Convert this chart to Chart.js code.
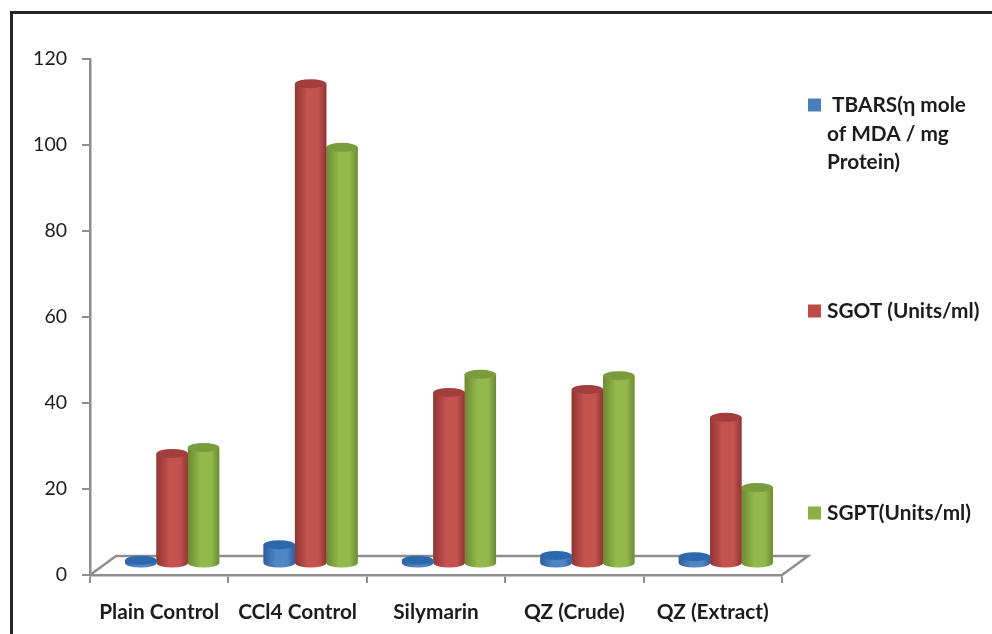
<!DOCTYPE html>
<html>
<head>
<meta charset="utf-8">
<title>Liver markers by treatment group</title>
<script src="https://cdn.jsdelivr.net/npm/chart.js@4"></script>
<style>
  html, body { margin: 0; background: #fff; }
  canvas { display: block; }
</style>
</head>
<body>
<canvas id="markers" width="992" height="634"></canvas>
<script>
const groups = ["Plain Control", "CCl4 Control", "Silymarin", "QZ (Crude)", "QZ (Extract)"];
const tbars = [0.9, 4.5, 0.9, 2.0, 1.7];
const sgot = [25.7, 111.7, 39.9, 40.6, 34.1];
const sgpt = [27.1, 96.9, 44.1, 43.8, 17.8];
const tbarsLabel = [" TBARS(η mole", "of MDA / mg", "Protein)"];
const sgotLabel = ["SGOT (Units/ml)"];
const sgptLabel = ["SGPT(Units/ml)"];

const AXIS_GREY = "#8e8e8e";
const TEXT_DARK = "#1c1c1c";
// the bars stand in the middle of the floor, the back wall sits twice as far away
const DEPTH_X = 13;
const DEPTH_Y = 11;
const CAP_RY = 4.5;

const shades = {
  tbars: { edge: "#2f5f9c", mid: "#4f86c6", cap: "#2c68ad" },
  sgot: { edge: "#8f3633", mid: "#c4524f", cap: "#a23f3c" },
  sgpt: { edge: "#6c8a34", mid: "#93b84b", cap: "#7a9c3c" },
};

function bodyGradient(ctx, left, right, s) {
  const g = ctx.createLinearGradient(left, 0, right, 0);
  g.addColorStop(0, s.edge);
  g.addColorStop(0.4, s.mid);
  g.addColorStop(0.75, s.mid);
  g.addColorStop(1, s.edge);
  return g;
}

// turns each flat bar into a cylinder and shifts it back onto the floor
const cylinders = {
  id: "cylinders",
  beforeDatasetDraw(chart) {
    chart.ctx.save();
    chart.ctx.translate(DEPTH_X, -DEPTH_Y);
  },
  afterDatasetDraw(chart, args) {
    const ctx = chart.ctx;
    const s = chart.data.datasets[args.index].shades;
    args.meta.data.forEach((bar) => {
      const { x, y, base, width } = bar.getProps(["x", "y", "base", "width"], true);
      const left = x - width / 2;
      const right = x + width / 2;
      ctx.fillStyle = bodyGradient(ctx, left, right, s);
      ctx.beginPath();
      ctx.moveTo(left, y);
      ctx.lineTo(left, base);
      ctx.ellipse(x, base, width / 2, CAP_RY, 0, Math.PI, 0, true);
      ctx.lineTo(right, y);
      ctx.closePath();
      ctx.fill();
      ctx.fillStyle = s.cap;
      ctx.beginPath();
      ctx.ellipse(x, y, width / 2, CAP_RY, 0, 0, Math.PI * 2);
      ctx.fill();
    });
    ctx.restore();
  },
};

// floor outline and the frame around the figure
const floorAndFrame = {
  id: "floorAndFrame",
  beforeDatasetsDraw(chart) {
    const { ctx, chartArea: a } = chart;
    const backX = 2 * DEPTH_X;
    const backY = a.bottom - 19;
    ctx.save();
    ctx.strokeStyle = AXIS_GREY;
    ctx.lineWidth = 2.5;
    ctx.beginPath();
    ctx.moveTo(a.left, a.bottom);
    ctx.lineTo(a.left + backX, backY);
    ctx.lineTo(a.right + backX, backY);
    ctx.lineTo(a.right, a.bottom);
    ctx.stroke();
    ctx.restore();
  },
  afterDraw(chart) {
    const ctx = chart.ctx;
    ctx.save();
    ctx.strokeStyle = "#262626";
    ctx.lineWidth = 3;
    ctx.beginPath();
    ctx.moveTo(11.5, chart.height);
    ctx.lineTo(11.5, 12.5);
    ctx.lineTo(chart.width, 12.5);
    ctx.stroke();
    ctx.restore();
  },
};

// legend entries are spread down the right side, one per series
const sideLegend = {
  id: "sideLegend",
  afterDraw(chart) {
    const ctx = chart.ctx;
    const entries = [
      { lines: tbarsLabel, y: [105, 134, 162], swatch: "#4a7ebb" },
      { lines: sgotLabel, y: [311], swatch: "#be4b48" },
      { lines: sgptLabel, y: [513], swatch: "#8cb045" },
    ];
    ctx.save();
    ctx.font = "bold 20.8px Lato";
    ctx.textBaseline = "middle";
    entries.forEach((entry) => {
      ctx.fillStyle = entry.swatch;
      ctx.fillRect(808, entry.y[0] - 6.5, 13, 13);
      ctx.fillStyle = TEXT_DARK;
      entry.lines.forEach((line, i) => ctx.fillText(line, 827, entry.y[i]));
    });
    ctx.restore();
  },
};

function series(label, values, color, s) {
  return {
    label,
    data: values,
    backgroundColor: color,
    shades: s,
    categoryPercentage: 0.68,
    barPercentage: 1,
  };
}

new Chart(document.getElementById("markers"), {
  type: "bar",
  data: {
    labels: groups,
    datasets: [
      series(tbarsLabel.join(" ").trim(), tbars, "#4a7ebb", shades.tbars),
      series(sgotLabel[0], sgot, "#be4b48", shades.sgot),
      series(sgptLabel[0], sgpt, "#8cb045", shades.sgpt),
    ],
  },
  options: {
    responsive: false,
    animation: false,
    layout: { padding: { top: 59, right: 210 } },
    plugins: {
      legend: { display: false },
      tooltip: { enabled: false },
    },
    scales: {
      x: {
        afterFit(scale) { scale.height = 59; },
        border: { color: AXIS_GREY, width: 2.5 },
        grid: { color: AXIS_GREY, lineWidth: 2, drawOnChartArea: false, tickLength: 8 },
        ticks: {
          color: TEXT_DARK,
          padding: 17,
          maxRotation: 0,
          autoSkip: false,
          font: { family: "Lato", size: 20.8, weight: "bold" },
        },
      },
      y: {
        min: 0,
        max: 120,
        afterFit(scale) { scale.width = 90; },
        border: { color: AXIS_GREY, width: 2.5 },
        grid: { color: AXIS_GREY, lineWidth: 2, drawOnChartArea: false, tickLength: 8 },
        ticks: {
          stepSize: 20,
          color: TEXT_DARK,
          padding: 15,
          font: { family: "Lato", size: 19.5 },
        },
      },
    },
  },
  plugins: [floorAndFrame, cylinders, sideLegend],
});
</script>
</body>
</html>
